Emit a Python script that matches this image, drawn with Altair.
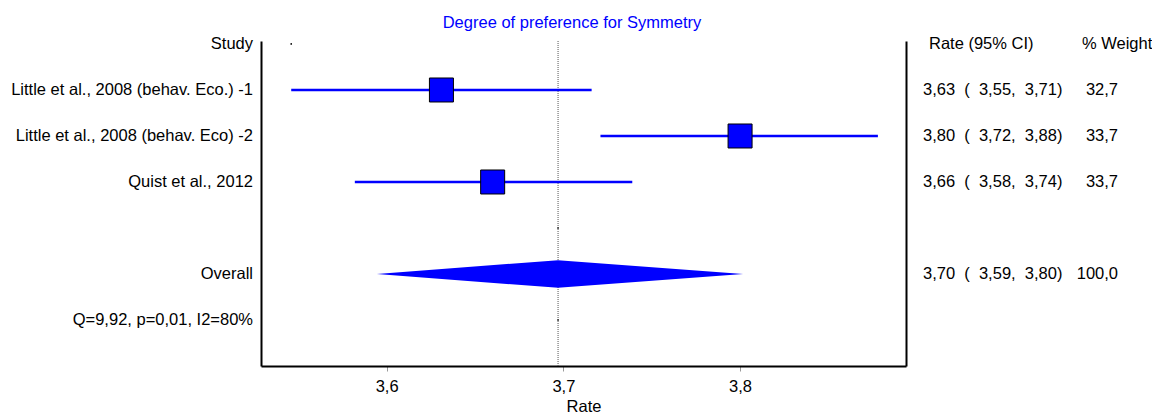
import altair as alt
import pandas as pd

NB = "\u00a0"

# ---- data ----
study_labels = ["Study", "Little et al., 2008 (behav. Eco.) -1", "Little et al., 2008 (behav. Eco) -2",
                "Quist et al., 2012", "Overall", "Q=9,92, p=0,01, I2=80%"]
label_rows = [0, 1, 2, 3, 5, 6]

study_rows = [1, 2, 3]
study_est = [3.631, 3.800, 3.660]
study_lo = [3.546, 3.721, 3.582]
study_hi = [3.716, 3.878, 3.739]

overall_row = 5
overall_est = 3.697
overall_lo = 3.5945
overall_hi = 3.8017
diamond_half = 0.30

ci_rows = [1, 2, 3, 5]
ci_est_txt = ["3,63", "3,80", "3,66", "3,70"]
ci_lo_txt = ["3,55", "3,72", "3,58", "3,59"]
ci_hi_txt = ["3,71", "3,88", "3,74", "3,80"]
weight_txt = ["32,7", "33,7", "33,7", "100,0"]

dot_x = [3.546, 3.697, 3.697]
dot_rows = [0, 4, 6]

x_domain = [3.5289, 3.8939]
x_ticks = [3.6, 3.7, 3.8]
y_domain = [-0.065, 7.0]

BLUE = "#0000FF"
FONT = "Liberation Sans"
FS = 16.5

# ---- tables ----
studies_df = pd.DataFrame({"row": study_rows, "est": study_est, "lo": study_lo, "hi": study_hi})
labels_df = pd.DataFrame({"row": label_rows, "label": study_labels})
diamond_df = pd.DataFrame({
    "x": [overall_lo, overall_est, overall_hi],
    "top": [overall_row, overall_row - diamond_half, overall_row],
    "bot": [overall_row, overall_row + diamond_half, overall_row],
})
ci_df = pd.DataFrame({
    "row": ci_rows,
    "ci": [f"{e}{NB}{NB}({NB}{NB}{l},{NB}{NB}{h})" for e, l, h in zip(ci_est_txt, ci_lo_txt, ci_hi_txt)],
    "w": weight_txt,
})
dots_df = pd.DataFrame({"x": dot_x, "row": dot_rows})
vline_df = pd.DataFrame({"x": [overall_est]})
header_df = pd.DataFrame({"row": [0]})

xscale = alt.Scale(domain=x_domain, nice=False, zero=False)
yscale = alt.Scale(domain=y_domain, reverse=True, nice=False, zero=False)

x_axis = alt.Axis(values=x_ticks, labelExpr="replace(format(datum.value, '.1f'), '.', ',')",
                  title="Rate", grid=False, tickColor="#999999", tickSize=5, tickWidth=1,
                  domainColor="black", domainWidth=2, labelFont=FONT, labelFontSize=FS,
                  labelColor="black", titleFont=FONT, titleFontSize=FS, titleFontWeight="normal",
                  titleColor="black", labelPadding=7, titlePadding=4)
y_left = alt.Axis(orient="left", labels=False, ticks=False, grid=False, title=None,
                  domainColor="black", domainWidth=2)
y_right = alt.Axis(orient="right", labels=False, ticks=False, grid=False, title=None,
                   domainColor="black", domainWidth=2)

vline = alt.Chart(vline_df).mark_rule(color="#555555", strokeWidth=1, strokeDash=[1, 1]).encode(
    x=alt.X("x:Q", scale=xscale, axis=x_axis)
)

ci_lines = alt.Chart(studies_df).mark_rule(color=BLUE, strokeWidth=2.5).encode(
    x=alt.X("lo:Q", scale=xscale),
    x2="hi:Q",
    y=alt.Y("row:Q", scale=yscale, axis=y_left),
)

squares = alt.Chart(studies_df).mark_square(size=576, fill=BLUE, stroke="black", strokeWidth=1,
                                             opacity=1, fillOpacity=1).encode(
    x=alt.X("est:Q", scale=xscale),
    y=alt.Y("row:Q", scale=yscale, axis=None),
)

diamond = alt.Chart(diamond_df).mark_area(color=BLUE, opacity=1, orient="vertical").encode(
    x=alt.X("x:Q", scale=xscale),
    y=alt.Y("top:Q", scale=yscale, axis=None),
    y2="bot:Q",
)

dots = alt.Chart(dots_df).mark_circle(color="black", size=3, opacity=1).encode(
    x=alt.X("x:Q", scale=xscale),
    y=alt.Y("row:Q", scale=yscale, axis=y_right),
)

left_text = alt.Chart(labels_df).mark_text(align="right", baseline="middle", font=FONT,
                                            fontSize=FS, color="black").encode(
    x=alt.value(-8),
    y=alt.Y("row:Q", scale=yscale, axis=None),
    text="label:N",
)

ci_text = alt.Chart(ci_df).mark_text(align="left", baseline="middle", font=FONT,
                                     fontSize=FS, color="black").encode(
    x=alt.value(662),
    y=alt.Y("row:Q", scale=yscale, axis=None),
    text="ci:N",
)

w_text = alt.Chart(ci_df).mark_text(align="right", baseline="middle", font=FONT,
                                    fontSize=FS, color="black").encode(
    x=alt.value(857),
    y=alt.Y("row:Q", scale=yscale, axis=None),
    text="w:N",
)

hdr1 = alt.Chart(header_df).mark_text(align="left", baseline="middle", font=FONT,
                                      fontSize=FS, color="black", text="Rate (95% CI)").encode(
    x=alt.value(668),
    y=alt.Y("row:Q", scale=yscale, axis=None),
)
hdr2 = alt.Chart(header_df).mark_text(align="left", baseline="middle", font=FONT,
                                      fontSize=FS, color="black", text="% Weight").encode(
    x=alt.value(821),
    y=alt.Y("row:Q", scale=yscale, axis=None),
)
title = alt.Chart(header_df).mark_text(align="center", baseline="middle", font=FONT,
                                       fontSize=FS, color=BLUE,
                                       text="Degree of preference for Symmetry").encode(
    x=alt.value(311),
    y=alt.value(-18),
)

chart = alt.layer(
    vline, ci_lines, squares, diamond, dots, left_text, ci_text, w_text, hdr1, hdr2, title
).resolve_axis(y="independent").properties(
    width=645, height=325,
    autosize=alt.AutoSizeParams(type="none"),
    padding={"left": 261, "top": 41, "right": 246, "bottom": 51},
    background="white",
).configure_view(stroke=None)

chart.save("out.html", embed_options={"renderer": "svg", "actions": False})
